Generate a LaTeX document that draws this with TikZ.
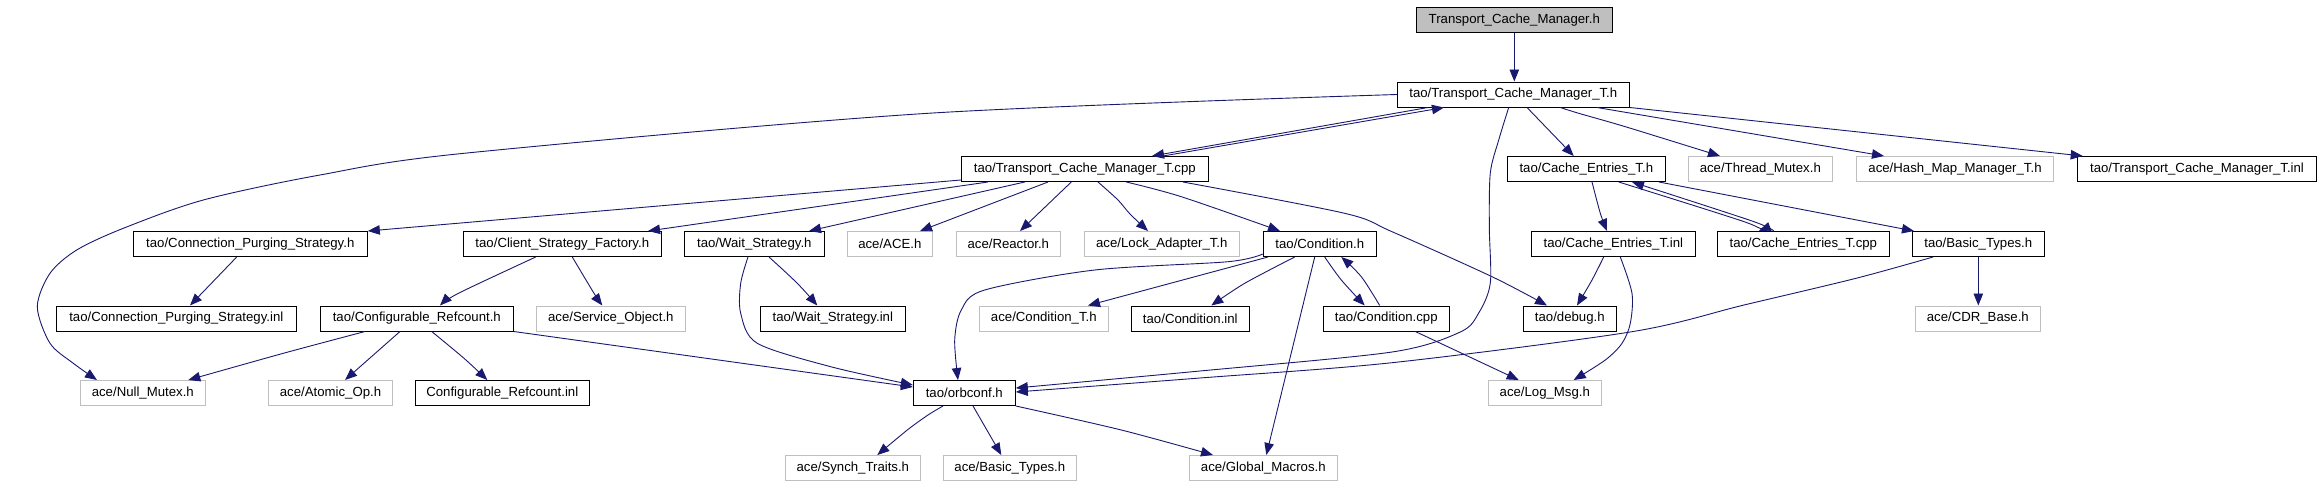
\documentclass[tikz,border=0pt]{standalone}
\usepackage{fontspec}
\setmainfont{Liberation Sans}
\usetikzlibrary{arrows.meta}
\definecolor{edgecol}{RGB}{25,25,112}
\definecolor{boxgrey}{RGB}{191,191,191}
\tikzset{
  box/.style={draw=black, line width=1pt, minimum height=25pt, inner sep=0pt,
    font=\fontsize{13.2}{15}\selectfont, anchor=center},
  gbox/.style={box, draw=boxgrey},
  rootbox/.style={box, fill=boxgrey},
  e/.style={draw=edgecol, line width=0.9pt, -{Triangle[length=12pt,width=9.5pt]}},
}
\begin{document}
\begin{tikzpicture}[x=1pt,y=-1pt]
\useasboundingbox (0,0) rectangle (2320,485);
\fill[white] (0,0) rectangle (2320,485);
% row 0
\node[rootbox, minimum width=196pt] (root) at (1514.3,20) {Transport\_Cache\_Manager.h};
% row 1
\node[box, minimum width=232pt] (tcmh) at (1513.3,94.5) {tao/Transport\_Cache\_Manager\_T.h};
% row 2
\node[box, minimum width=247pt] (tcmcpp) at (1084.8,169) {tao/Transport\_Cache\_Manager\_T.cpp};
\node[box, minimum width=158pt] (ceh) at (1586.3,169) {tao/Cache\_Entries\_T.h};
\node[gbox, minimum width=144pt] (thrmutex) at (1760.3,169) {ace/Thread\_Mutex.h};
\node[gbox, minimum width=197pt] (hashmap) at (1955,169) {ace/Hash\_Map\_Manager\_T.h};
\node[box, minimum width=239pt] (tcminl) at (2197,169) {tao/Transport\_Cache\_Manager\_T.inl};
% row 3
\node[box, minimum width=234pt] (cpsh) at (250.3,244) {tao/Connection\_Purging\_Strategy.h};
\node[box, minimum width=198pt] (csf) at (562.3,244) {tao/Client\_Strategy\_Factory.h};
\node[box, minimum width=140pt] (wsh) at (754.3,244) {tao/Wait\_Strategy.h};
\node[gbox, minimum width=85pt] (aceh) at (889.8,244) {ace/ACE.h};
\node[gbox, minimum width=104pt] (reactor) at (1008.3,244) {ace/Reactor.h};
\node[gbox, minimum width=155pt] (lockad) at (1161.8,244) {ace/Lock\_Adapter\_T.h};
\node[box, minimum width=113pt] (condh) at (1319.8,244) {tao/Condition.h};
\node[box, minimum width=164pt] (ceinl) at (1613.3,244) {tao/Cache\_Entries\_T.inl};
\node[box, minimum width=172pt] (cecpp) at (1803.3,244) {tao/Cache\_Entries\_T.cpp};
\node[box, minimum width=132pt] (btao) at (1978.3,244) {tao/Basic\_Types.h};
% row 4
\node[box, minimum width=240pt] (cpsinl) at (176.3,318.5) {tao/Connection\_Purging\_Strategy.inl};
\node[box, minimum width=193pt] (confh) at (416.8,318.5) {tao/Configurable\_Refcount.h};
\node[gbox, minimum width=149pt] (svcobj) at (610.8,318.5) {ace/Service\_Object.h};
\node[box, minimum width=145pt] (wsinl) at (832.8,318.5) {tao/Wait\_Strategy.inl};
\node[gbox, minimum width=129pt] (condT) at (1043.8,318.5) {ace/Condition\_T.h};
\node[box, minimum width=118pt] (condinl) at (1190.3,318.5) {tao/Condition.inl};
\node[box, minimum width=126pt] (condcpp) at (1386.3,318.5) {tao/Condition.cpp};
\node[box, minimum width=93pt] (debug) at (1569.8,318.5) {tao/debug.h};
\node[gbox, minimum width=125pt] (cdr) at (1977.8,318.5) {ace/CDR\_Base.h};
% row 5
\node[gbox, minimum width=125pt] (nullmutex) at (142.8,393) {ace/Null\_Mutex.h};
\node[gbox, minimum width=124pt] (atomic) at (330.5,393) {ace/Atomic\_Op.h};
\node[box, minimum width=174pt] (confinl) at (502.3,393) {Configurable\_Refcount.inl};
\node[box, minimum width=102pt] (orbconf) at (964.3,393) {tao/orbconf.h};
\node[gbox, minimum width=113pt] (logmsg) at (1544.8,393) {ace/Log\_Msg.h};
% row 6
\node[gbox, minimum width=135pt] (synch) at (852.8,468) {ace/Synch\_Traits.h};
\node[gbox, minimum width=133pt] (bace) at (1009.8,468) {ace/Basic\_Types.h};
\node[gbox, minimum width=148pt] (gmacros) at (1263.3,468) {ace/Global\_Macros.h};

% ---- edges ----
\draw[e] (root.south) -- (root.south |- tcmh.north);
% from tcmh
\draw[e] plot[smooth] coordinates {(tcmh.west) (928,113.3) (464,153.3) (320,175) (203.3,200) (123.3,228.3) (76.7,250) (50,273.3) (37.3,306.7) (50,343.3) (73.3,363.3) (97,0 |- nullmutex.north)};
\draw[e] (1428,0 |- tcmh.south) -- (1152,0 |- tcmcpp.north);
\draw[e] plot[smooth] coordinates {(1508.7,0 |- tcmh.south) (1498.7,140) (1490.3,173) (1489.3,227) (1490.3,283) (1478.7,313) (1460.3,332) (1392,352) (1200,371) (orbconf.east |- 0,388)};
\draw[e] (1527,0 |- tcmh.south) -- (1573.7,0 |- ceh.north);
\draw[e] plot[smooth] coordinates {(1560.3,0 |- tcmh.south) (1578.7,113.3) (1625.3,126.7) (1720,0 |- thrmutex.north)};
\draw[e] (1597,0 |- tcmh.south) -- (1884,0 |- hashmap.north);
\draw[e] (tcmh.south east) -- (2082.7,0 |- tcminl.north);
% from tcmcpp
\draw[e] (1163,0 |- tcmcpp.north) -- (1444,0 |- tcmh.south);
\draw[e] (tcmcpp.west |- 0,180) -- (cpsh.north east);
\draw[e] (988,0 |- tcmcpp.south) -- (648,0 |- csf.north);
\draw[e] (1024.7,0 |- tcmcpp.south) -- (809,0 |- wsh.north);
\draw[e] (1048,0 |- tcmcpp.south) -- (920,0 |- aceh.north);
\draw[e] (1071.3,0 |- tcmcpp.south) -- (1020,0 |- reactor.north);
\draw[e] plot[smooth] coordinates {(1098,0 |- tcmcpp.south) (1118,200) (1130,214) (1148,0 |- lockad.north)};
\draw[e] plot[smooth] coordinates {(1126.3,0 |- tcmcpp.south) (1181.3,196.7) (1280,0 |- condh.north)};
\draw[e] plot[smooth] coordinates {(1183,0 |- tcmcpp.south) (1344.7,213.3) (1392,231.7) (1492,276.7) (1547,0 |- debug.north)};
% row 3 sources
\draw[e] (236.7,0 |- cpsh.south) -- (190,0 |- cpsinl.north);
\draw[e] plot[smooth] coordinates {(535.7,0 |- csf.south) (459,293) (440,0 |- confh.north)};
\draw[e] plot[smooth] coordinates {(572.3,0 |- csf.south) (594,293.3) (602.3,0 |- svcobj.north)};
\draw[e] plot[smooth] coordinates {(769,0 |- wsh.south) (797.3,283.3) (817.3,0 |- wsinl.north)};
\draw[e] plot[smooth] coordinates {(748,0 |- wsh.south) (740.7,283.3) (740.7,313.3) (757.3,343.3) (830.7,366.7) (orbconf.west |- 0,385)};
% confh
\draw[e] (confh.south east) -- (orbconf.west |- 0,387);
\draw[e] plot[smooth] coordinates {(365,0 |- confh.south) (283.3,353.3) (188.3,0 |- nullmutex.north)};
\draw[e] (400,0 |- confh.south) -- (345,0 |- atomic.north);
\draw[e] plot[smooth] coordinates {(431.7,0 |- confh.south) (464,358.3) (487.3,0 |- confinl.north)};
% condh
\draw[e] plot[smooth] coordinates {(condh.west |- 0,254) (1228,261.7) (1094.7,270) (984.7,290) (961.3,310) (954.7,340) (958,0 |- orbconf.north)};
\draw[e] (1268,0 |- condh.south) -- (1088,0 |- condT.north);
\draw[e] plot[smooth] coordinates {(1294.7,0 |- condh.south) (1244.7,283.3) (1211.3,0 |- condinl.north)};
\draw[e] (1314.7,0 |- condh.south) -- (1266.3,0 |- gmacros.north);
\draw[e] plot[smooth] coordinates {(1324.7,0 |- condh.south) (1341.3,280) (1364.7,0 |- condcpp.north)};
% condcpp
\draw[e] plot[smooth] coordinates {(1379.7,0 |- condcpp.north) (1361.3,276.7) (1341.3,0 |- condh.south)};
\draw[e] (1415.3,0 |- condcpp.south) -- (1518.7,0 |- logmsg.north);
% ceh
\draw[e] plot[smooth] coordinates {(1592,0 |- ceh.south) (1600.3,213.3) (1607,0 |- ceinl.north)};
\draw[e] plot[smooth] coordinates {(1618.7,0 |- ceh.south) (1745,222) (1758.7,0 |- cecpp.north)};
\draw[e] (1659,0 |- ceh.south) -- (1914,0 |- btao.north);
% cecpp
\draw[e] plot[smooth] coordinates {(1773.7,0 |- cecpp.north) (1752,221) (1632,0 |- ceh.south)};
% ceinl
\draw[e] plot[smooth] coordinates {(1603.7,0 |- ceinl.south) (1592,280) (1577,0 |- debug.north)};
\draw[e] plot[smooth] coordinates {(1620.3,0 |- ceinl.south) (1632,293.3) (1630.3,323.3) (1622,343.3) (1605.3,360) (1573.7,0 |- logmsg.north)};
% btao
\draw[e] plot[smooth] coordinates {(1933,0 |- btao.south) (1856,278.3) (1744,305) (1632,331.7) (1392,362.7) (1200,378) (orbconf.east |- 0,392)};
\draw[e] (btao.south) -- (btao.south |- cdr.north);
% orbconf
\draw[e] plot[smooth] coordinates {(943,0 |- orbconf.south) (928,415) (907.3,430) (877.3,0 |- synch.north)};
\draw[e] (973,0 |- orbconf.south) -- (1001.3,0 |- bace.north);
\draw[e] plot[smooth] coordinates {(orbconf.south east) (1121.3,430) (1213,0 |- gmacros.north)};
\end{tikzpicture}
\end{document}
